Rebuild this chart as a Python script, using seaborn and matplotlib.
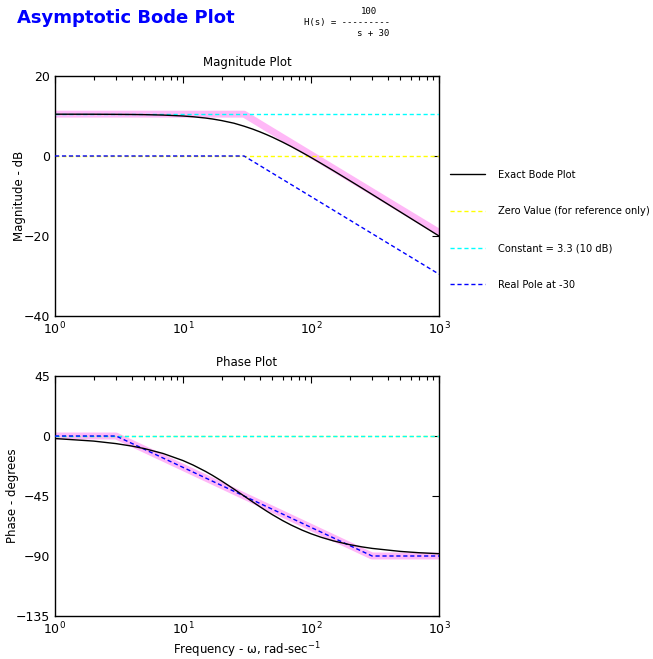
import numpy as np
import pandas as pd
import matplotlib
matplotlib.use("Agg")
import matplotlib.pyplot as plt
from matplotlib.lines import Line2D
import seaborn as sns

# -----------------------------
# Data
# -----------------------------
freq = [1, 2, 3, 4, 5, 7, 10, 12, 15, 17, 20, 25, 30, 35, 40, 45, 50, 60, 70, 85, 100, 120,
        150, 200, 250, 300, 500, 700, 1000]
exact_mag = [10.45, 10.44, 10.41, 10.38, 10.34, 10.23, 10.00, 9.81, 9.49, 9.25, 8.86, 8.20, 7.45,
             6.73, 6.02, 5.34, 4.69, 3.47, 2.37, 0.90, -0.37, -1.85, -3.69, -6.12, -8.02, -9.59,
             -14.00, -16.91, -20.00]
exact_phase = [-1.91, -3.81, -5.71, -7.59, -9.46, -13.13, -18.43, -21.80, -26.57, -29.54, -33.69,
               -39.81, -45.00, -49.40, -53.13, -56.31, -59.04, -63.43, -66.80, -70.56, -73.30,
               -75.96, -78.69, -81.47, -83.16, -84.29, -86.57, -87.55, -88.28]

mag_freq = [1, 30, 1000]
asym_mag = [10.46, 10.46, -19.08]
pole_mag = [0.0, 0.0, -29.54]
const_mag = [10.46, 10.46, 10.46]
zero_mag = [0.0, 0.0, 0.0]

ph_freq = [1, 3, 300, 1000]
asym_phase = [0.0, 0.0, -90.0, -90.0]
pole_phase = [0.0, 0.0, -90.0, -90.0]
zero_phase = [0.0, 0.0, 0.0, 0.0]
const_phase = [0.0, 0.0, 0.0, 0.0]

mag_ticks = [-40, -20, 0, 20]
phase_ticks = [-135, -90, -45, 0, 45]

legend_labels = ["Exact Bode Plot", "Zero Value (for reference only)",
                 "Constant = 3.3 (10 dB)", "Real Pole at -30"]

ZERO_C = "#ffff00"
CONST_C = "#00ffff"
POLE_C = "#0000ff"
ASYM_C = "#ffb8f7"
DASH = (0, (3, 2))

sns.set_theme(style="white")
plt.rcParams["font.family"] = ["DejaVu Sans"]
plt.rcParams["text.color"] = "black"
plt.rcParams["axes.labelcolor"] = "black"

fig = plt.figure(figsize=(6.53, 6.59), dpi=100)
ax1 = fig.add_axes([55 / 653, 1 - 316 / 659, 384 / 653, 240 / 659])
ax2 = fig.add_axes([55 / 653, 1 - 616 / 659, 384 / 653, 240 / 659])


def style_axis(ax, yticks, ylim):
    ax.set_xscale("log")
    ax.set_xlim(1, 1000)
    ax.set_ylim(*ylim)
    ax.set_yticks(yticks)
    ax.tick_params(axis="both", which="both", direction="in", top=True, right=True,
                   labelsize=9, colors="black")
    ax.tick_params(axis="both", which="major", length=5, width=0.8)
    ax.tick_params(axis="x", which="minor", length=3, width=0.8)
    ax.tick_params(axis="y", which="minor", length=0)
    for s in ax.spines.values():
        s.set_color("black")
        s.set_linewidth(1.0)
    ax.grid(False)


# -------- Magnitude --------
sns.lineplot(x=mag_freq, y=asym_mag, ax=ax1, color=ASYM_C, linewidth=5, zorder=1)
sns.lineplot(x=mag_freq, y=zero_mag, ax=ax1, color=ZERO_C, linewidth=1, linestyle=DASH, zorder=2)
sns.lineplot(x=mag_freq, y=const_mag, ax=ax1, color=CONST_C, linewidth=1, linestyle=DASH, zorder=3)
sns.lineplot(x=mag_freq, y=pole_mag, ax=ax1, color=POLE_C, linewidth=1, linestyle=DASH, zorder=4)
sns.lineplot(x=freq, y=exact_mag, ax=ax1, color="black", linewidth=1, zorder=5)
style_axis(ax1, mag_ticks, (-40, 20))
ax1.set_title("Magnitude Plot", fontsize=8.5, pad=7)
ax1.set_ylabel("Magnitude - dB", fontsize=8.5)
ax1.yaxis.set_label_coords(-0.075, 0.5)
ax1.set_xlabel("")

# -------- Phase --------
sns.lineplot(x=ph_freq, y=asym_phase, ax=ax2, color=ASYM_C, linewidth=5, zorder=1)
sns.lineplot(x=ph_freq, y=zero_phase, ax=ax2, color=ZERO_C, linewidth=1, linestyle=DASH, zorder=2)
sns.lineplot(x=ph_freq, y=const_phase, ax=ax2, color=CONST_C, linewidth=1, linestyle=DASH, zorder=3)
sns.lineplot(x=ph_freq, y=pole_phase, ax=ax2, color=POLE_C, linewidth=1, linestyle=DASH, zorder=4)
sns.lineplot(x=freq, y=exact_phase, ax=ax2, color="black", linewidth=1, zorder=5)
style_axis(ax2, phase_ticks, (-135, 45))
ax2.set_title("Phase Plot", fontsize=8.5, pad=7)
ax2.set_ylabel("Phase - degrees", fontsize=8.5)
ax2.yaxis.set_label_coords(-0.093, 0.5)
ax2.set_xlabel("Frequency - \u03c9, rad-sec$^{-1}$", fontsize=8.5)
ax2.xaxis.set_label_coords(0.5, -0.1)

# -------- Legend (outside, right) --------
handles = [
    Line2D([], [], color="black", linewidth=1),
    Line2D([], [], color=ZERO_C, linewidth=1, linestyle=DASH),
    Line2D([], [], color=CONST_C, linewidth=1, linestyle=DASH),
    Line2D([], [], color=POLE_C, linewidth=1, linestyle=DASH),
]
fig.legend(handles, legend_labels, loc="upper left", bbox_to_anchor=(441 / 653, 1 - 161 / 659),
           frameon=False, fontsize=7.1, labelspacing=2.7, handlelength=3.6, handletextpad=1.3)

# -------- Header --------
fig.text(17 / 653, 1 - 18 / 659, "Asymptotic Bode Plot", color="#0000ff", fontsize=13,
         fontweight="bold", va="center", ha="left")
fig.text(369 / 653, 1 - 11 / 659, "100", fontsize=6.5, family="DejaVu Sans Mono",
         ha="center", va="center")
fig.text(304 / 653, 1 - 22 / 659, "H(s) = ---------", fontsize=6.5, family="DejaVu Sans Mono",
         ha="left", va="center")
fig.text(373 / 653, 1 - 34 / 659, "s + 30", fontsize=6.5, family="DejaVu Sans Mono",
         ha="center", va="center")

fig.savefig("out.png", dpi=100)
